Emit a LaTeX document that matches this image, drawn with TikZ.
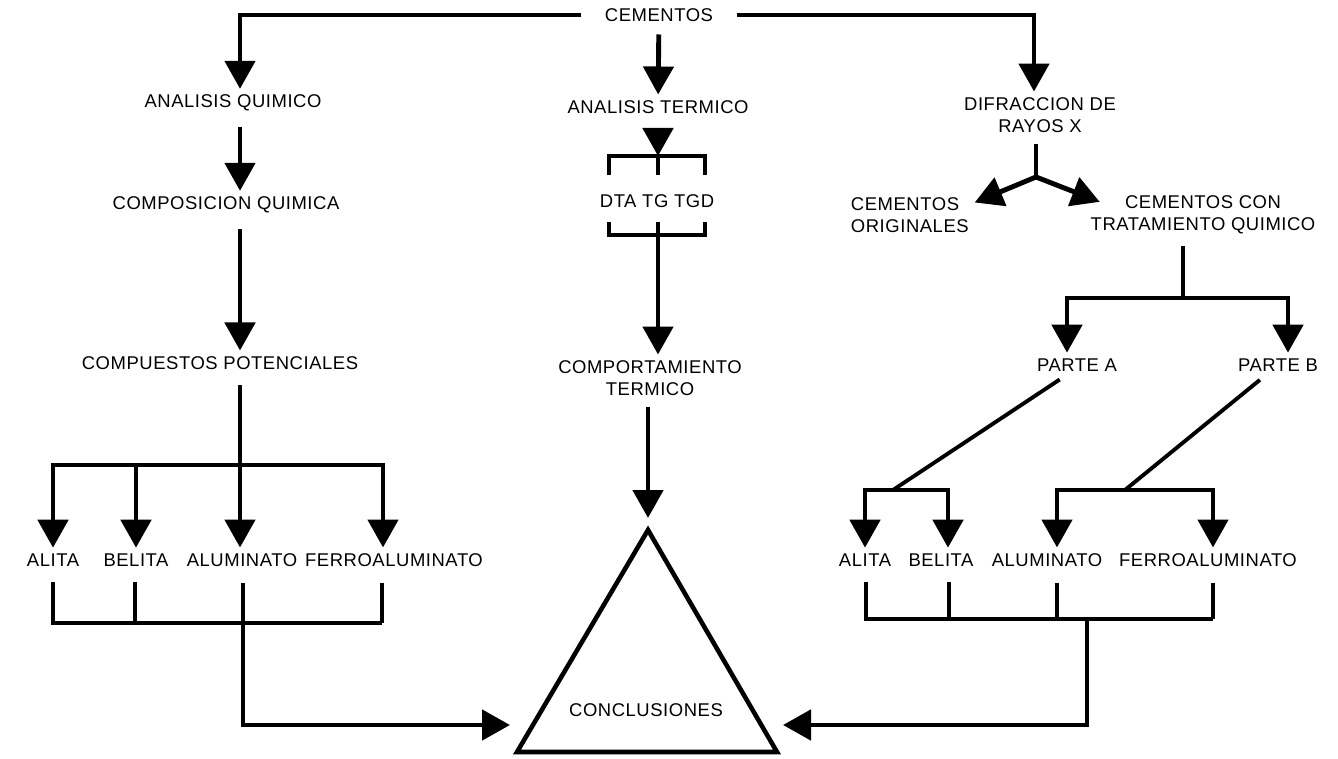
\documentclass[tikz,border=0pt]{standalone}
\usepackage{fontspec}
\setmainfont{Liberation Sans}[LetterSpace=3]
\usetikzlibrary{arrows.meta}

\begin{document}
\begin{tikzpicture}[x=0.02cm,y=-0.02cm,line width=2.8pt,
    >={Triangle[length=0.56cm,width=0.6cm]},
    every node/.style={font=\fontsize{10.5}{12.5}\selectfont,inner sep=2pt,align=center}]
  \tikzstyle{arr}=[->]
  \tikzstyle{gap}=[shorten <=0.2cm]
  \tikzstyle{thin}=[line width=2.2pt]
  \useasboundingbox (0,0) rectangle (1338,759);

  % columns
  \coordinate (colA) at (240,0);
  \coordinate (colB) at (658,0);
  \coordinate (colC) at (1034,0);
  \coordinate (colD) at (1183,0);

  \node[inner xsep=12pt] (cem) at (659,15) {CEMENTOS};

  % analisis quimico
  \node (aq) at (233,103) {ANALISIS QUIMICO};
  \node (cq) at (226,205) {COMPOSICION QUIMICA};
  \node (cp) at (220,363) {COMPUESTOS POTENCIALES};
  \node (la1) at (53,560) {ALITA};
  \node (la2) at (136,560) {BELITA};
  \node (la3) at (242,560) {ALUMINATO};
  \node (la4) at (394,560) {FERROALUMINATO};
  \coordinate (lbr) at (240,465);
  \coordinate (lf1) at (53,623);
  \coordinate (lf2) at (135,623);
  \coordinate (lbb) at (243,623);
  \coordinate (lf4) at (382,623);
  \coordinate (inl) at (510,725);

  \draw[arr] (cem.west) -| (aq.north -| colA);
  \draw[arr,gap] (aq.south -| colA) -- (cq.north -| colA);
  \draw[arr,gap] (cq.south -| colA) -- (cp.north -| colA);
  \draw[gap] (cp.south -| colA) -- (lbr);
  \draw[arr] (lbr) -| (la1);
  \draw[arr] (lbr) -| (la2);
  \draw[arr] (lbr) -- (la3.north -| lbr);
  \draw[arr] (lbr) -| ([xshift=-0.22cm]la4.north);
  \draw[thin,gap] (la1.south -| lf1) |- (lf4);
  \draw[thin,gap] (la4.south -| lf4) -- (lf4);
  \draw[thin,gap] (la2.south -| lf2) -- (lf2);
  \draw[thin,gap] (la3.south -| lbb) -- (lbb);
  \draw[arr] (lbb) |- (inl);

  % analisis termico
  \node (at) at (658,107) {ANALISIS TERMICO};
  \node (dtg) at (657,201) {DTA TG TGD};
  \node (ct) at (650,378) {COMPORTAMIENTO\\TERMICO};
  \coordinate (tb) at (658,156);
  \coordinate (bb) at (658,235);

  \draw[arr,shorten <=0.14cm] (cem) -- (at);
  \draw[arr,gap] (at.south -| colB) -- (tb);
  \draw[thin,shorten <=0.26cm,shorten >=0.26cm]
    ([xshift=-0.96cm]dtg.north) |- (tb) -| ([xshift=0.96cm]dtg.north);
  \draw[thin,shorten >=0.26cm] (tb) -- (dtg.north -| tb);
  \draw[thin,shorten <=0.18cm] ([xshift=-0.96cm]dtg.south) |- (bb);
  \draw[thin,shorten <=0.18cm] ([xshift=0.96cm]dtg.south) |- (bb);
  \draw[thin,shorten <=0.18cm] (dtg.south -| bb) -- (bb);
  \draw[arr] (bb) -- (ct.north -| bb);

  % conclusiones
  \draw[line width=2.6pt] (648,530) coordinate (apex) -- (777,752) coordinate (br)
    -- (517,752) coordinate (bl) -- cycle;
  \node (concl) at (646,710) {CONCLUSIONES};
  \draw[arr,shorten <=0.12cm,shorten >=0.24cm] (ct.south -| apex) -- (apex);

  % difraccion de rayos x
  \node (dr) at (1040,115) {DIFRACCION DE\\RAYOS X};
  \node[align=left,anchor=west] (co) at (845,215) {CEMENTOS\\ORIGINALES};
  \node (ctq) at (1203,215) {CEMENTOS CON\\TRATAMIENTO QUIMICO};
  \node (pa) at (1077,365) {PARTE A};
  \node (pb) at (1278,365) {PARTE B};
  \node (ra1) at (865,560) {ALITA};
  \node (ra2) at (941,560) {BELITA};
  \node (ra3) at (1047,560) {ALUMINATO};
  \node (ra4) at (1208,560) {FERROALUMINATO};
  \coordinate (fk) at (1036,177);
  \coordinate (rbr) at (1183,298);
  \coordinate (rb1) at (893,490);
  \coordinate (rb2) at (1125,490);
  \coordinate (rf1) at (866,619);
  \coordinate (rf2) at (949,619);
  \coordinate (rf3) at (1057,619);
  \coordinate (rf4) at (1213,619);
  \coordinate (rbb) at (1087,619);
  \coordinate (inr) at (783,725);

  \draw[arr] (cem.east) -| (dr.north -| colC);
  \draw[shorten <=0.12cm] (dr.south -| fk) -- (fk);
  \draw[arr] (fk) -- ([yshift=-0.22cm]co.north east);
  \draw[arr] (fk) -- ([xshift=0.3cm,yshift=-0.24cm]ctq.north west);
  \draw[shorten <=0.12cm] (ctq.south -| colD) -- (rbr);
  \draw[arr] (rbr) -| ([xshift=-0.2cm]pa.north);
  \draw[arr] (rbr) -| ([xshift=0.2cm]pb.north);
  \draw[thin,shorten <=0.08cm] ([xshift=-0.28cm]pa.south) -- (rb1);
  \draw[thin,shorten <=0.08cm] ([xshift=-0.3cm]pb.south) -- (rb2);
  \draw[arr] (rb1) -| (ra1);
  \draw[arr] (rb1) -| ([xshift=0.14cm]ra2.north);
  \draw[arr] (rb2) -| ([xshift=0.2cm]ra3.north);
  \draw[arr] (rb2) -| ([xshift=0.1cm]ra4.north);
  \draw[thin,gap] (ra1.south -| rf1) |- (rf4);
  \draw[thin,gap] (ra4.south -| rf4) -- (rf4);
  \draw[thin,gap] (ra2.south -| rf2) -- (rf2);
  \draw[thin,gap] (ra3.south -| rf3) -- (rf3);
  \draw[arr] (rbb) |- (inr);
\end{tikzpicture}
\end{document}
